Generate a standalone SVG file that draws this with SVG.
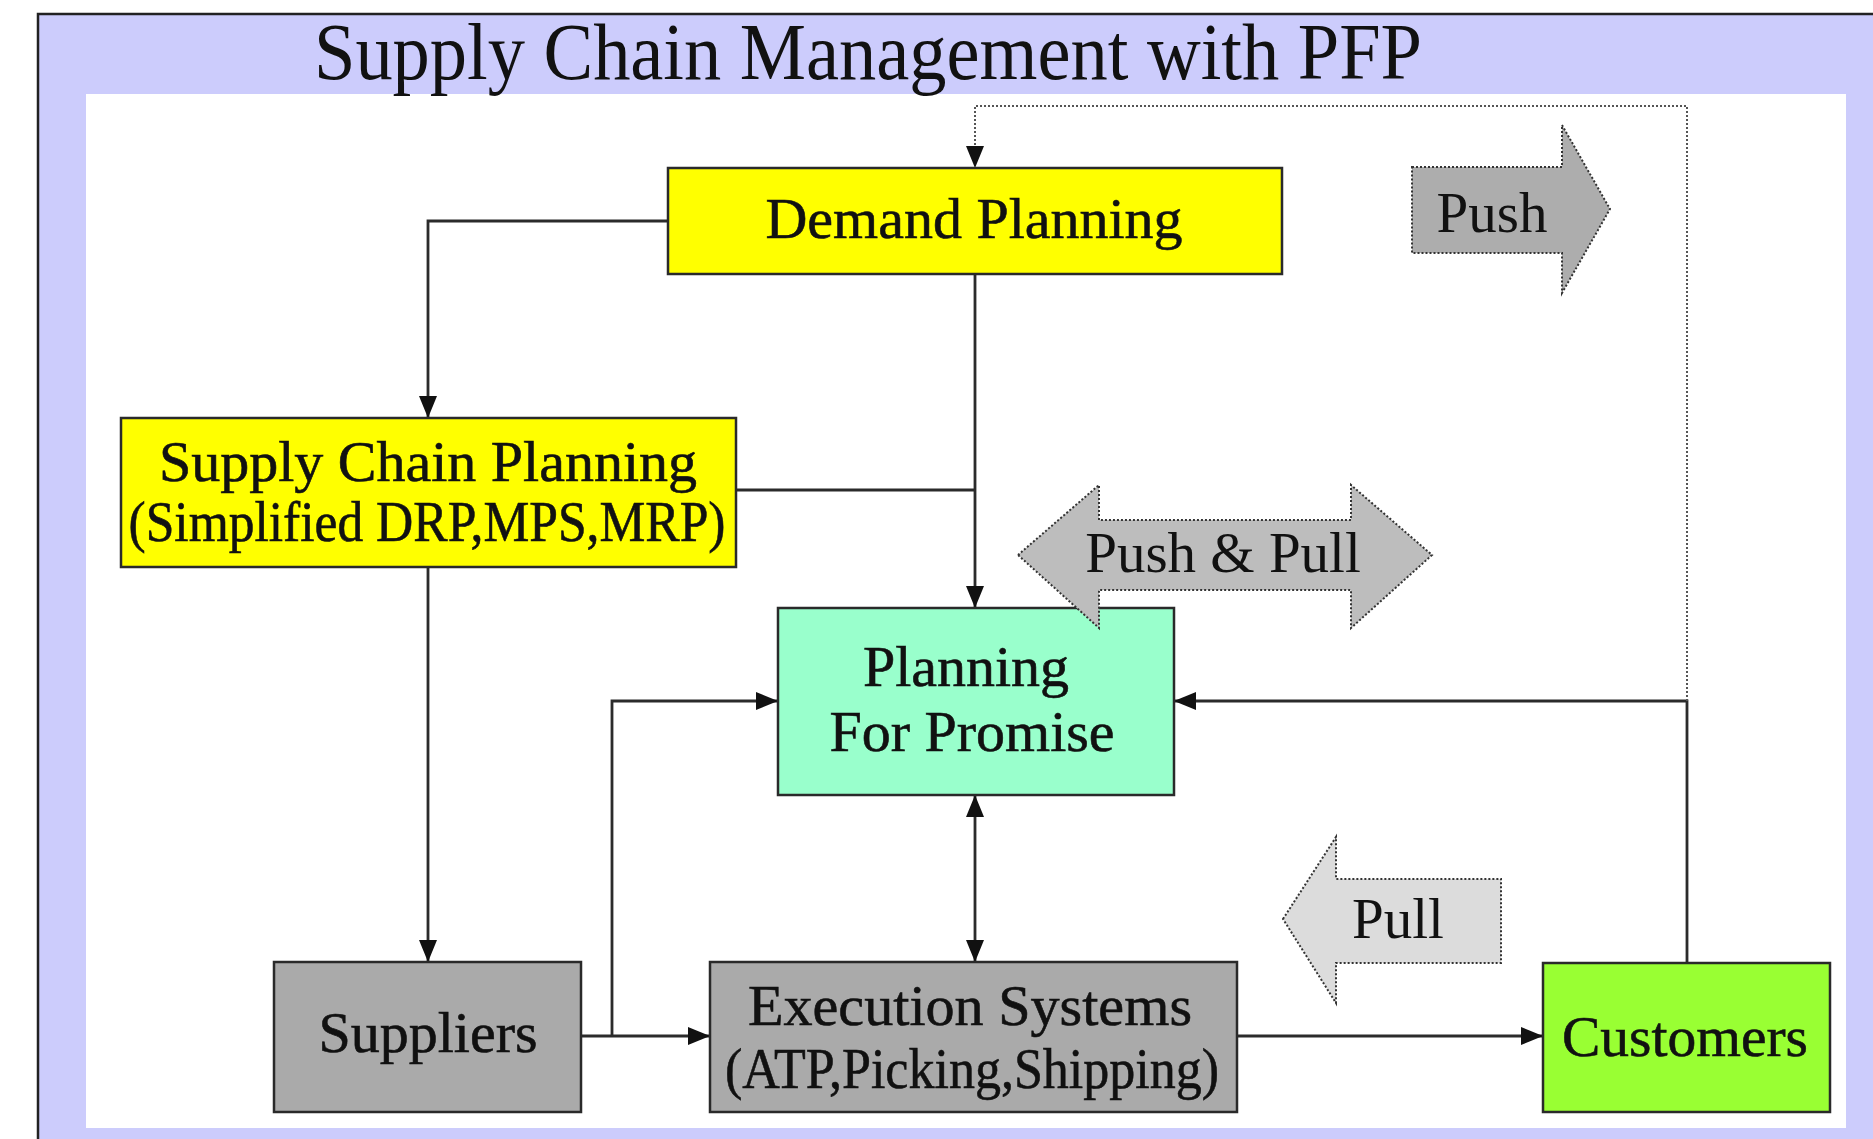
<svg xmlns="http://www.w3.org/2000/svg" width="1873" height="1139" viewBox="0 0 1873 1139">
<style>
.node{stroke:#2a2a2a;stroke-width:2.5}
.lbl{font-family:"Liberation Serif","Times New Roman",serif;font-size:58px;fill:#111;text-anchor:middle;stroke:#111;stroke-width:0.6}
.big{font-family:"Liberation Serif","Times New Roman",serif;font-size:57px;fill:#111;text-anchor:middle}
.conn{fill:none;stroke:#2b2b2b;stroke-width:2.8}
.dot{fill:none;stroke:#555;stroke-width:2;stroke-dasharray:2 2}
.blk{stroke:#333;stroke-width:2;stroke-dasharray:2 2}
</style>
<defs>
<marker id="ah" viewBox="0 0 22 18" markerWidth="22" markerHeight="18" refX="22" refY="9" markerUnits="userSpaceOnUse" orient="auto-start-reverse">
<path d="M0,0 L22,9 L0,18 z" fill="#111"/>
</marker>
</defs>
<rect x="0" y="0" width="1873" height="1139" fill="#ffffff"/>
<rect x="38" y="14" width="1835" height="1125" fill="#ccccfc"/>
<path d="M38,1139 V14 H1873" fill="none" stroke="#222" stroke-width="2.5"/>
<rect x="86" y="94" width="1760" height="1034" fill="#ffffff"/>
<text x="314" y="79" font-family="'Liberation Serif','Times New Roman',serif" font-size="80" fill="#111" textLength="1108" lengthAdjust="spacingAndGlyphs">Supply Chain Management with PFP</text>

<g id="connectors">
<path class="conn" d="M668,221 H428 V418" marker-end="url(#ah)"/>
<path class="conn" d="M975,274 V608" marker-end="url(#ah)"/>
<path class="conn" d="M736,490 H975"/>
<path class="conn" d="M428,567 V962" marker-end="url(#ah)"/>
<path class="conn" d="M581,1036 H710" marker-end="url(#ah)"/>
<path class="conn" d="M612,1036 V701 H778" marker-end="url(#ah)"/>
<path class="conn" d="M975,795 V962" marker-start="url(#ah)" marker-end="url(#ah)"/>
<path class="conn" d="M1237,1036 H1543" marker-end="url(#ah)"/>
<path class="conn" d="M1687,963 V701 H1174" marker-end="url(#ah)"/>
<path class="dot" d="M1687,701 V106 H975 V168" marker-end="url(#ah)"/>
</g>

<g id="demand-planning">
<rect class="node" x="668" y="168" width="614" height="106" fill="#ffff00"/>
<text class="lbl" x="974" y="238">Demand Planning</text>
</g>
<g id="supply-chain-planning">
<rect class="node" x="121" y="418" width="615" height="149" fill="#ffff00"/>
<text class="lbl" x="428" y="481" font-size="53" textLength="538" lengthAdjust="spacingAndGlyphs">Supply Chain Planning</text>
<text class="lbl" x="427" y="541" font-size="53" textLength="597" lengthAdjust="spacingAndGlyphs">(Simplified DRP,MPS,MRP)</text>
</g>
<g id="planning-for-promise">
<rect class="node" x="778" y="608" width="396" height="187" fill="#99ffcc"/>
<text class="lbl" x="966" y="686" fill="#0f2a1a" stroke="#0f2a1a">Planning</text>
<text class="lbl" x="972" y="751" fill="#0f2a1a" stroke="#0f2a1a">For Promise</text>
</g>
<g id="suppliers">
<rect class="node" x="274" y="962" width="307" height="150" fill="#aaaaaa"/>
<text class="lbl" x="428" y="1052">Suppliers</text>
</g>
<g id="execution-systems">
<rect class="node" x="710" y="962" width="527" height="150" fill="#aaaaaa"/>
<text class="lbl" x="970" y="1025" textLength="444" lengthAdjust="spacingAndGlyphs">Execution Systems</text>
<text class="lbl" x="972" y="1088" textLength="494" lengthAdjust="spacingAndGlyphs">(ATP,Picking,Shipping)</text>
</g>
<g id="customers">
<rect class="node" x="1543" y="963" width="287" height="149" fill="#99ff33"/>
<text class="lbl" x="1685" y="1056" fill="#0b2e0b" stroke="#0b2e0b" textLength="246" lengthAdjust="spacingAndGlyphs">Customers</text>
</g>
<g id="push">
<path class="blk" d="M1412,167 H1562 V125 L1610,209 L1562,293 V253 H1412 Z" fill="#adadad"/>
<text class="big" x="1492" y="232">Push</text>
</g>
<g id="push-pull">
<path class="blk" d="M1018,555 L1099,485 V520 H1351 V485 L1432,555 L1351,628 V590 H1099 V628 Z" fill="#bdbdbd"/>
<text class="big" x="1223" y="572">Push &amp; Pull</text>
</g>
<g id="pull">
<path class="blk" d="M1283,919 L1336,837 V879 H1501 V963 H1336 V1003 Z" fill="#dcdcdc"/>
<text class="big" x="1398" y="938">Pull</text>
</g>
</svg>
